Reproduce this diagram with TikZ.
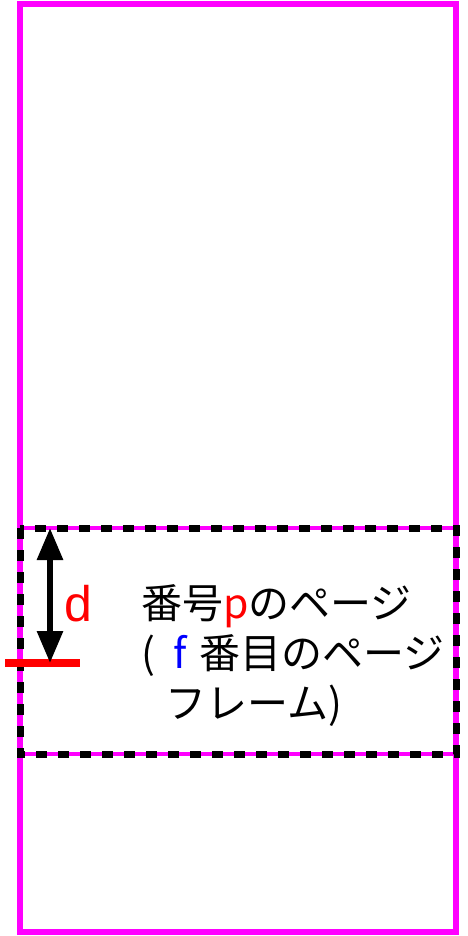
\documentclass[tikz,border=0pt]{standalone}
\usepackage{fontspec}
\setmainfont{Noto Sans CJK JP}
\newfontfamily\dfont{Liberation Sans}
\usetikzlibrary{arrows.meta}
\definecolor{mag}{RGB}{255,0,255}
\definecolor{myred}{RGB}{255,0,0}
\definecolor{myblue}{RGB}{0,0,255}
\tikzset{
  outerbox/.style={draw=mag, line width=5.5pt},
  framemag/.style={draw=mag, line width=4pt},
  framedash/.style={draw=black, line width=7pt, dash pattern=on 11pt off 11pt},
  dimarrow/.style={black, line width=6pt, {Triangle[width=25pt,length=32pt]}-{Triangle[width=25pt,length=32pt]}},
  redbar/.style={draw=myred, line width=8pt},
}
\begin{document}
\begin{tikzpicture}[x=1pt,y=-1pt]
\useasboundingbox (0,0) rectangle (468,936);
\draw[outerbox] (20,4) rectangle (456,932);
\draw[framemag] (20,528) rectangle (456,754);
\draw[framedash] (20,528) rectangle (456,754);
\coordinate (bl) at (5,663);
\coordinate (br) at (80,663);
\draw[redbar] (bl) -- (br);
\coordinate (atop) at (50,528);
\coordinate (abot) at (50,663);
\draw[dimarrow] (atop) -- (abot);
\node[anchor=west, text=myred, font=\dfont\fontsize{50}{50}\selectfont, inner sep=0pt] (d) at (64,604) {d};
\node[anchor=north west, align=left, inner sep=0pt, font=\fontsize{41}{50}\selectfont] (txt) at (141,584)
  {番号\textcolor{myred}{p}のページ\\(\hspace{0.45em}\textcolor{myblue}{f}\hspace{0.3em}番目のページ\\\hspace*{0.6em}フレーム)};
\end{tikzpicture}
\end{document}
